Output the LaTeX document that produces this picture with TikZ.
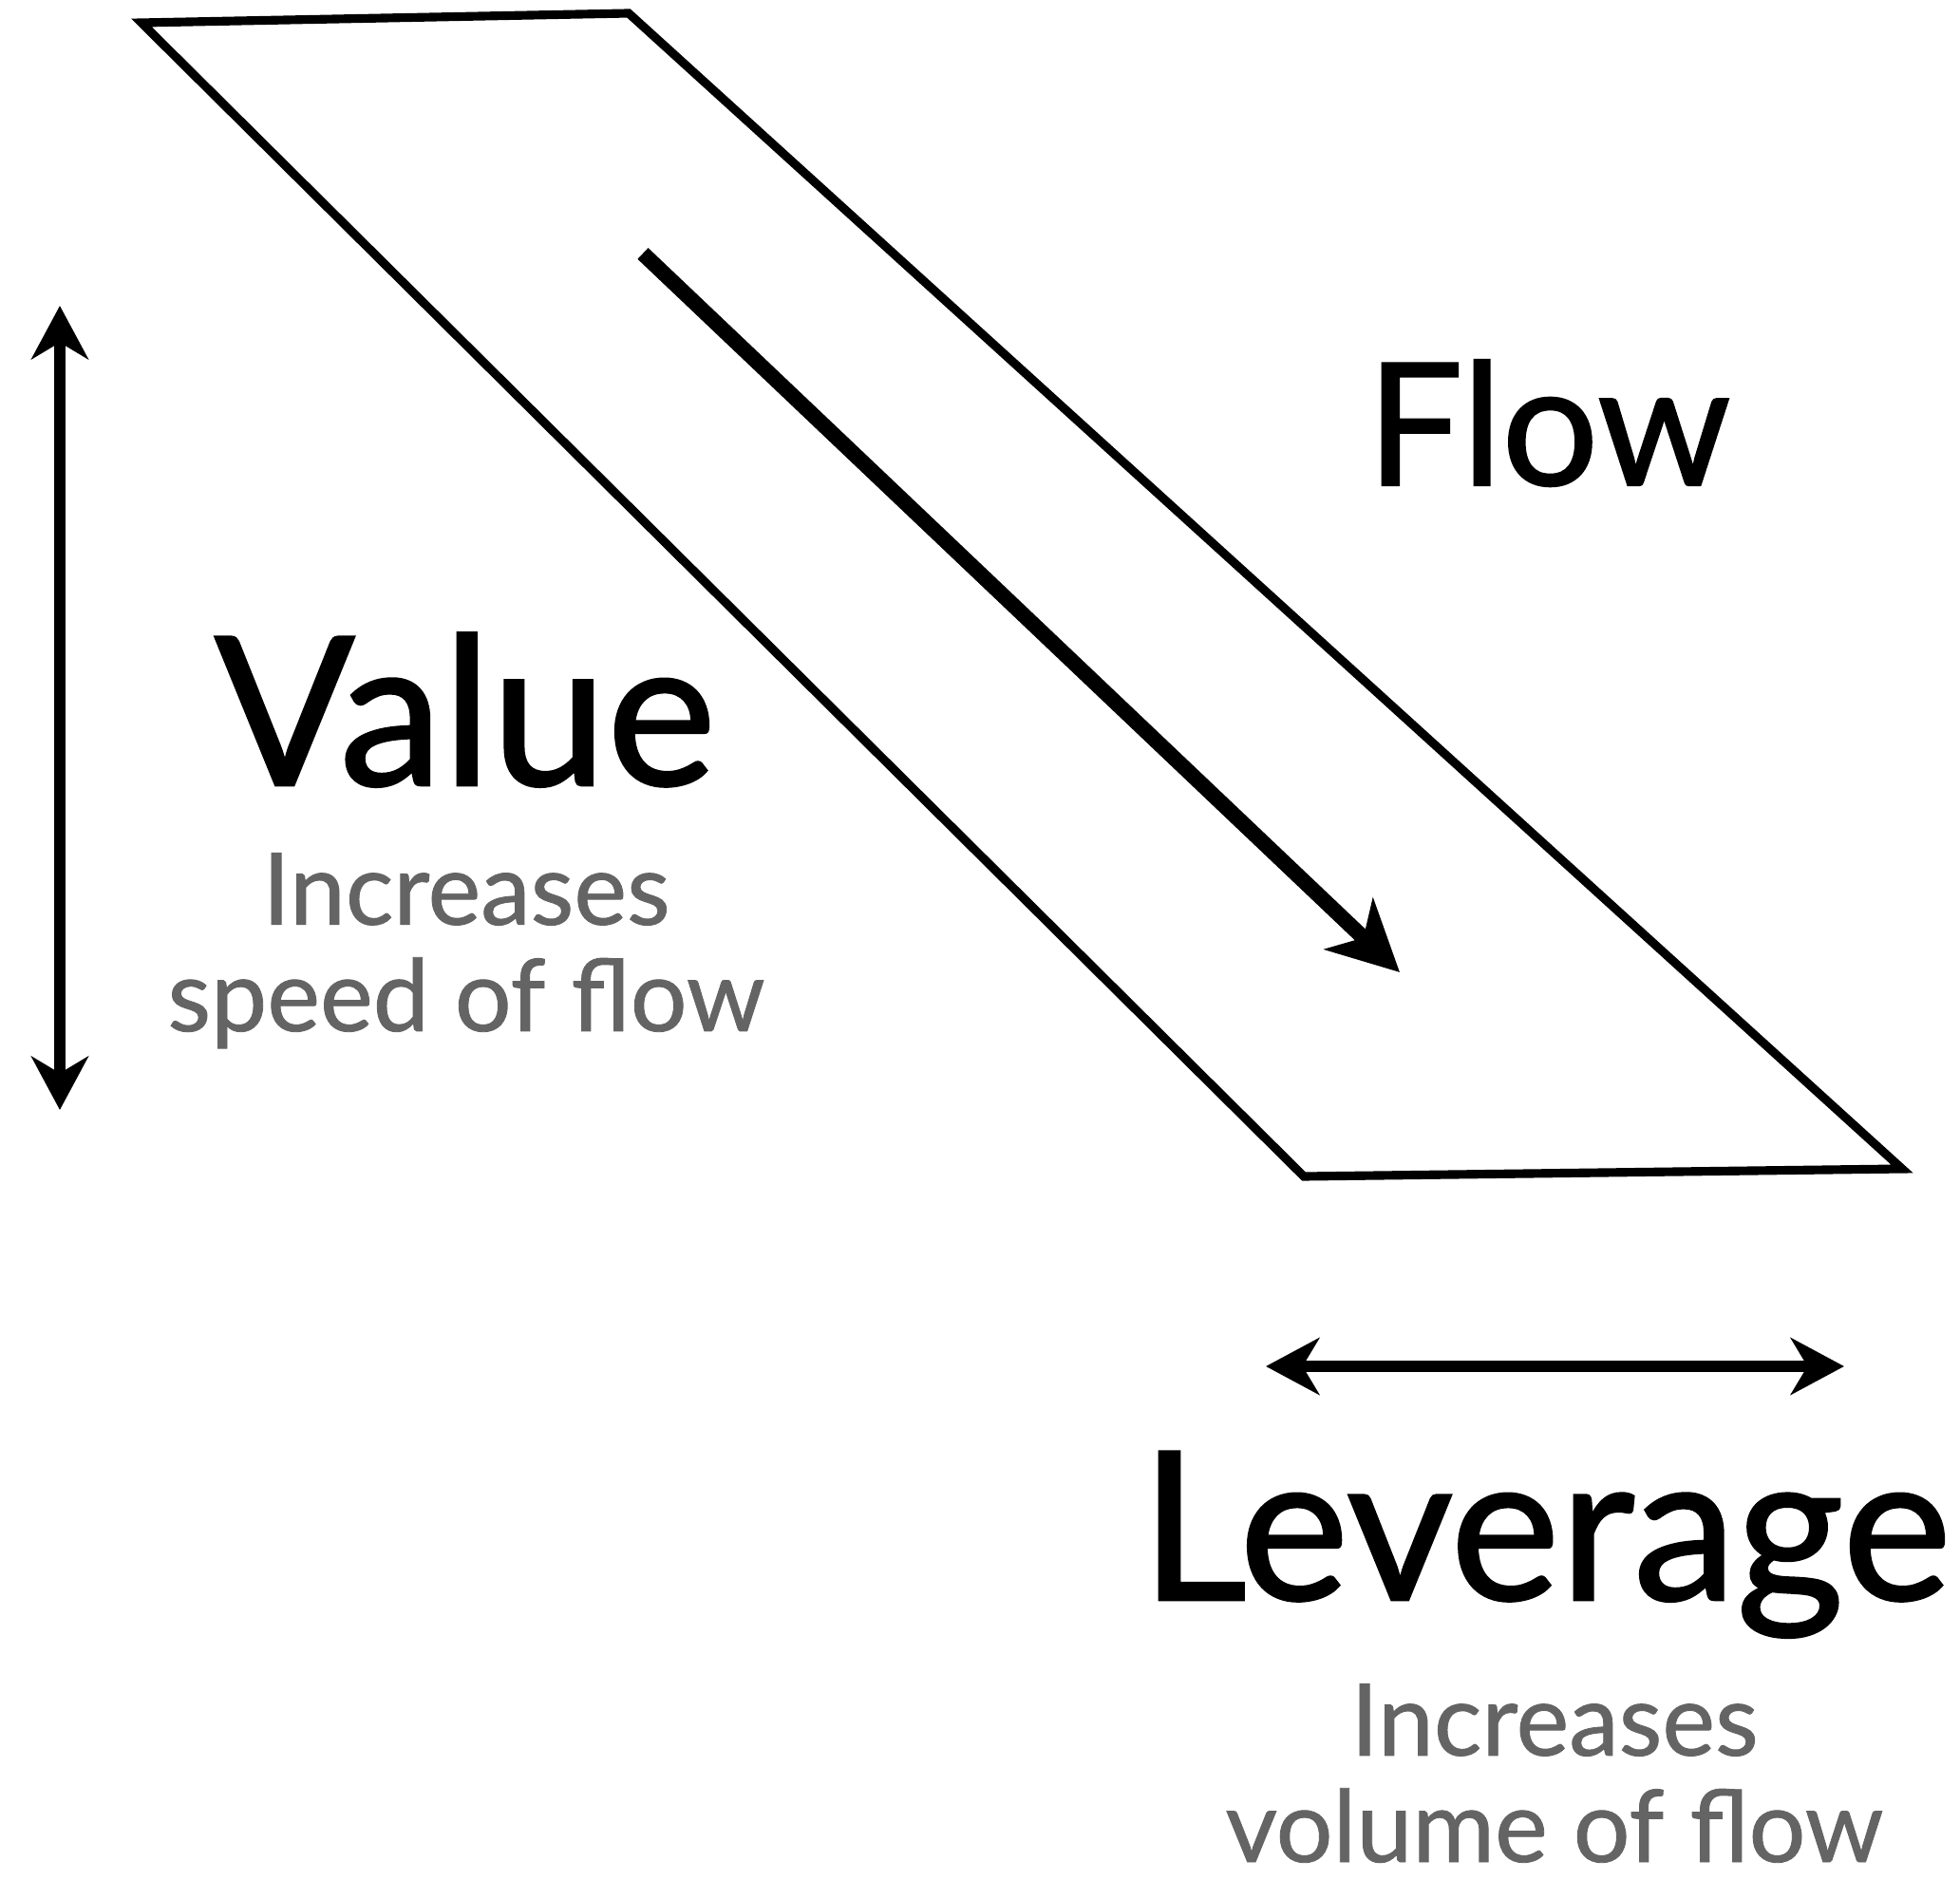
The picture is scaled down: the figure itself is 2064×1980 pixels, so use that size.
\documentclass[tikz,border=0pt]{standalone}
\usepackage{fontspec}
\setmainfont{Lato}
\newfontfamily\labelfont{Lato}[FakeBold=1.2]
\newfontfamily\notefont{Lato}[FakeBold=0.8]
\usetikzlibrary{arrows.meta}
\definecolor{subgray}{RGB}{100,100,100}
\tikzset{
  outline/.style={line width=2.6pt, line join=miter},
  flowarrow/.style={line width=4.6pt, -{Stealth[length=21pt,width=21pt,inset=6pt]}},
  measure/.style={line width=3.2pt, {Stealth[length=16pt,width=17pt,inset=5pt]}-{Stealth[length=16pt,width=17pt,inset=5pt]}},
  bigword/.style={inner sep=0pt, anchor=base, font=\labelfont\fontsize{62}{70}\selectfont},
  subnote/.style={inner sep=0pt, anchor=base, align=center, text=subgray, font=\notefont\fontsize{30}{31.9}\selectfont}
}
\begin{document}
\begin{tikzpicture}[x=0.01cm, y=-0.01cm]
  \useasboundingbox (0,0) rectangle (2064,1980);

  % the channel the flow runs along
  \coordinate (tl) at (149,24);
  \coordinate (tr) at (662,14);
  \coordinate (br) at (2003,1231);
  \coordinate (bl) at (1373,1239);
  \draw[outline] (tl) -- (tr) -- (br) -- (bl) -- cycle;

  % direction of flow
  \coordinate (fstart) at (677,267);
  \coordinate (fend) at (1474,1024);
  \draw[flowarrow] (fstart) -- (fend);

  % value: vertical extent
  \coordinate (vtop) at (63,322);
  \coordinate (vbot) at (63,1169);
  \draw[measure] (vtop) -- (vbot);

  % leverage: horizontal extent
  \coordinate (lleft) at (1333,1439);
  \coordinate (lright) at (1942,1439);
  \draw[measure] (lleft) -- (lright);

  % labels (multi-line notes are placed by the baseline of their last line)
  \node[bigword, font=\labelfont\fontsize{51}{60}\selectfont] (flow) at (1631,511) {Flow};
  \node[bigword] (value) at (490,827) {Value};
  \node[subnote] (valuenote) at (491,1086) {Increases\\speed of flow};
  \node[bigword] (leverage) at (1628,1685) {Leverage};
  \node[subnote] (levnote) at (1637,1961) {Increases\\volume of flow};
\end{tikzpicture}
\end{document}
